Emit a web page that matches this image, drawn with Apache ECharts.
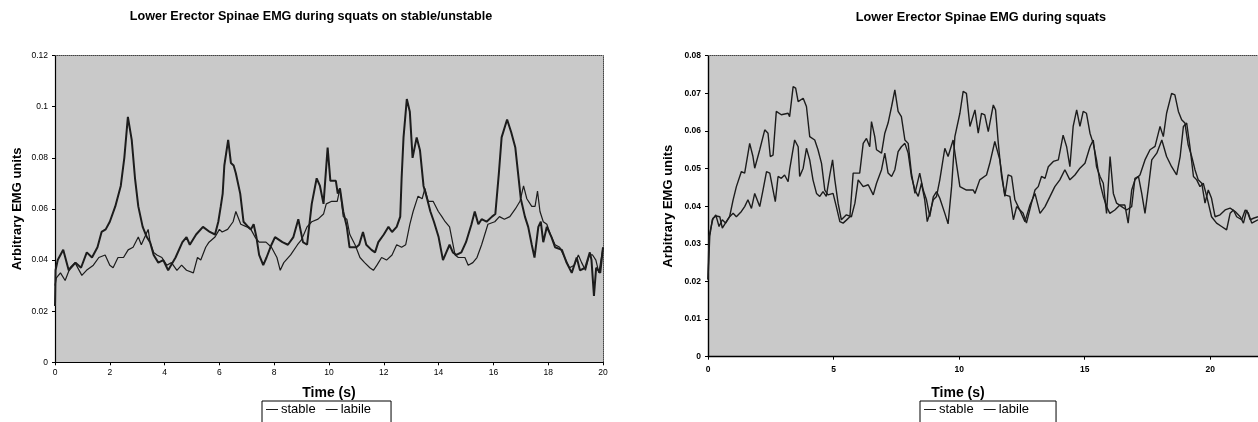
<!DOCTYPE html>
<html><head><meta charset="utf-8">
<script src="https://cdn.jsdelivr.net/npm/echarts@6/dist/echarts.min.js"></script>
<style>html,body{margin:0;padding:0;background:#fff}#c{width:1258px;height:422px}</style>
</head><body><div id="c"></div>
<script>
// ---- Left chart: stable / unstable ----
const leftLabileT = [0,0.02,0.1,0.3,0.5,0.75,0.95,1.16,1.35,1.55,1.7,1.85,2,2.2,2.4,2.53,2.66,2.8,2.92,3.04,3.2,3.35,3.47,3.6,3.77,3.95,4.13,4.4,4.65,4.8,4.92,5.15,5.4,5.65,5.84,5.96,6.05,6.12,6.18,6.32,6.42,6.52,6.6,6.76,6.88,7.05,7.15,7.25,7.35,7.45,7.6,7.72,7.9,8.03,8.3,8.5,8.7,8.88,9.05,9.2,9.37,9.55,9.67,9.8,9.95,10.05,10.25,10.32,10.4,10.52,10.65,10.75,11,11.1,11.24,11.36,11.55,11.68,11.8,12,12.17,12.3,12.47,12.6,12.65,12.72,12.84,12.95,13.05,13.2,13.32,13.45,13.58,13.7,13.83,14,14.16,14.28,14.4,14.52,14.65,14.83,15,15.2,15.32,15.45,15.57,15.75,15.95,16.07,16.2,16.3,16.5,16.65,16.8,16.9,17,17.15,17.27,17.4,17.5,17.64,17.73,17.82,17.95,18.12,18.25,18.5,18.67,18.86,19.04,19.16,19.35,19.52,19.58,19.67,19.75,19.9,20];
const leftLabileV = [0.022,0.036,0.040,0.044,0.036,0.039,0.037,0.043,0.041,0.045,0.051,0.052,0.055,0.061,0.069,0.080,0.096,0.087,0.072,0.061,0.053,0.049,0.047,0.042,0.039,0.040,0.036,0.041,0.047,0.049,0.046,0.050,0.053,0.051,0.050,0.055,0.061,0.066,0.077,0.087,0.078,0.077,0.074,0.066,0.055,0.053,0.052,0.054,0.049,0.042,0.038,0.041,0.046,0.049,0.047,0.046,0.049,0.056,0.047,0.046,0.062,0.072,0.069,0.062,0.084,0.071,0.071,0.066,0.068,0.059,0.053,0.045,0.045,0.046,0.051,0.046,0.044,0.043,0.047,0.050,0.053,0.051,0.053,0.057,0.072,0.088,0.103,0.098,0.080,0.088,0.083,0.069,0.064,0.059,0.055,0.049,0.040,0.043,0.046,0.043,0.042,0.043,0.047,0.054,0.059,0.054,0.056,0.055,0.057,0.058,0.074,0.088,0.095,0.090,0.084,0.074,0.064,0.057,0.053,0.046,0.041,0.053,0.055,0.047,0.053,0.049,0.045,0.044,0.039,0.035,0.041,0.036,0.037,0.043,0.040,0.026,0.037,0.035,0.045];
const leftStableT = [0,0.05,0.2,0.37,0.55,0.73,0.98,1.15,1.4,1.6,1.83,2,2.12,2.3,2.5,2.67,2.85,3.04,3.15,3.4,3.47,3.6,3.72,3.9,4.08,4.25,4.45,4.62,4.8,5.05,5.2,5.32,5.5,5.62,5.84,6,6.1,6.3,6.5,6.6,6.78,7,7.15,7.3,7.45,7.7,7.9,8.1,8.22,8.35,8.6,8.85,9,9.2,9.37,9.6,9.8,9.9,10.1,10.3,10.4,10.52,10.65,10.76,10.95,11.13,11.3,11.49,11.62,11.75,11.92,12.1,12.3,12.47,12.65,12.8,12.95,13.07,13.25,13.4,13.5,13.62,13.8,13.99,14.12,14.24,14.4,14.6,14.72,14.96,15.08,15.25,15.4,15.57,15.8,16.05,16.22,16.4,16.6,16.8,16.97,17.1,17.22,17.4,17.52,17.61,17.7,17.82,17.95,18.08,18.25,18.42,18.6,18.78,18.95,19.1,19.22,19.36,19.5,19.62,19.74,19.85,20];
const leftStableV = [0.030,0.033,0.035,0.032,0.037,0.039,0.034,0.036,0.038,0.041,0.042,0.038,0.037,0.041,0.041,0.044,0.045,0.049,0.046,0.052,0.047,0.043,0.042,0.041,0.038,0.039,0.036,0.038,0.036,0.035,0.041,0.040,0.045,0.047,0.049,0.052,0.051,0.052,0.055,0.059,0.054,0.053,0.052,0.049,0.047,0.047,0.045,0.041,0.036,0.039,0.042,0.046,0.048,0.053,0.055,0.056,0.058,0.062,0.063,0.063,0.068,0.057,0.056,0.050,0.046,0.041,0.039,0.037,0.036,0.038,0.041,0.040,0.042,0.046,0.045,0.046,0.054,0.059,0.065,0.064,0.068,0.063,0.063,0.059,0.057,0.055,0.053,0.042,0.041,0.041,0.038,0.039,0.041,0.046,0.054,0.055,0.057,0.056,0.057,0.060,0.063,0.069,0.064,0.061,0.061,0.067,0.059,0.055,0.054,0.050,0.046,0.045,0.041,0.037,0.038,0.042,0.039,0.036,0.042,0.042,0.040,0.035,0.045];

// ---- Right chart ----
const rightLabileT = [0,0.04,0.2,0.33,0.47,0.57,0.73,0.86,1,1.13,1.33,1.46,1.66,1.79,1.86,2.06,2.26,2.39,2.48,2.59,2.72,2.92,3.19,3.25,3.39,3.49,3.59,3.79,3.92,4.05,4.25,4.38,4.52,4.65,4.78,4.98,5.11,5.25,5.38,5.51,5.65,5.78,6.04,6.18,6.31,6.44,6.51,6.64,6.71,6.91,7.04,7.17,7.31,7.44,7.57,7.7,7.84,7.97,8.1,8.24,8.43,8.57,8.7,8.83,8.97,9.1,9.23,9.43,9.56,9.7,9.83,10.03,10.16,10.29,10.43,10.63,10.76,10.89,11.02,11.16,11.36,11.45,11.56,11.69,11.82,12.02,12.16,12.29,12.42,12.55,12.68,12.88,13.02,13.15,13.28,13.42,13.55,13.75,13.95,14.14,14.28,14.41,14.54,14.68,14.81,14.94,15.07,15.21,15.34,15.47,15.61,15.74,15.87,16,16.2,16.4,16.6,16.73,16.87,17,17.2,17.4,17.6,17.8,18,18.13,18.26,18.46,18.59,18.73,18.86,18.99,19.12,19.26,19.39,19.52,19.66,19.79,19.92,20.05,20.19,20.39,20.59,20.79,20.99,21.19,21.32,21.45,21.59,21.72,21.9];
const rightLabileV = [0.0205,0.032,0.0368,0.0374,0.0372,0.0342,0.0359,0.0372,0.0417,0.0452,0.0492,0.0488,0.0567,0.0532,0.0501,0.055,0.0603,0.0594,0.0532,0.0536,0.0652,0.0643,0.0647,0.0638,0.0718,0.0714,0.0678,0.0687,0.0665,0.0585,0.0576,0.055,0.0514,0.0443,0.043,0.0434,0.0399,0.0359,0.0355,0.0363,0.0372,0.0488,0.0488,0.0567,0.058,0.0558,0.0625,0.0585,0.055,0.0541,0.0594,0.0621,0.0665,0.0709,0.0652,0.0638,0.0576,0.0567,0.0488,0.0434,0.0488,0.0443,0.0417,0.0372,0.0425,0.0439,0.0421,0.0381,0.0353,0.0452,0.0585,0.0647,0.0705,0.07,0.0612,0.0656,0.0594,0.0647,0.0643,0.0598,0.0669,0.0656,0.0567,0.0479,0.043,0.0426,0.0364,0.0399,0.039,0.0381,0.0355,0.0408,0.0443,0.0452,0.0479,0.0474,0.0505,0.0519,0.0523,0.0589,0.0558,0.0505,0.0612,0.0656,0.0612,0.0652,0.0647,0.0594,0.0567,0.0523,0.0461,0.0426,0.0399,0.0381,0.039,0.0403,0.0403,0.0355,0.0443,0.047,0.0483,0.0523,0.055,0.0559,0.0612,0.0585,0.0647,0.07,0.0696,0.0652,0.063,0.0621,0.0563,0.0532,0.0497,0.047,0.0461,0.0408,0.0443,0.0421,0.0372,0.0377,0.039,0.0395,0.0386,0.0372,0.0355,0.039,0.0364,0.0368,0.0372];
const rightStableT = [0,0.07,0.17,0.31,0.44,0.57,0.7,0.86,1,1.13,1.33,1.46,1.59,1.73,1.86,2.06,2.19,2.33,2.46,2.59,2.68,2.79,2.92,3.05,3.19,3.25,3.45,3.59,3.65,3.79,3.92,4.05,4.18,4.32,4.45,4.58,4.71,4.85,4.96,5.05,5.18,5.31,5.51,5.71,5.85,5.98,6.18,6.38,6.58,6.71,6.91,7.04,7.17,7.31,7.44,7.57,7.7,7.84,7.97,8.1,8.24,8.37,8.5,8.63,8.73,8.83,8.97,9.1,9.23,9.43,9.56,9.76,9.9,10.03,10.29,10.56,10.63,10.82,11.09,11.22,11.42,11.62,11.82,11.95,12.09,12.22,12.35,12.62,12.82,13.02,13.22,13.42,13.62,13.81,14.01,14.21,14.41,14.61,14.81,15.01,15.21,15.34,15.47,15.61,15.74,15.87,16.01,16.14,16.27,16.47,16.67,16.87,17,17.14,17.27,17.4,17.54,17.67,17.87,18.07,18.26,18.46,18.66,18.8,18.93,19.06,19.19,19.33,19.46,19.59,19.72,19.86,20.05,20.25,20.45,20.65,20.79,20.92,21.05,21.25,21.39,21.52,21.65,21.9];
const rightStableV = [0.0205,0.032,0.0364,0.0377,0.0346,0.0364,0.0355,0.0372,0.0381,0.0372,0.0386,0.0399,0.0417,0.0394,0.0434,0.0399,0.0443,0.0492,0.0488,0.0443,0.0412,0.0479,0.0474,0.0483,0.0465,0.0497,0.0576,0.0558,0.0479,0.0501,0.0554,0.0523,0.047,0.0434,0.0426,0.0439,0.0426,0.0483,0.0523,0.047,0.0408,0.0364,0.0377,0.0372,0.0408,0.047,0.0452,0.0457,0.043,0.0461,0.0497,0.0541,0.0488,0.0479,0.0497,0.0545,0.0558,0.0567,0.0541,0.0479,0.0443,0.0426,0.0461,0.0417,0.0359,0.0381,0.0417,0.0426,0.047,0.0554,0.0532,0.0576,0.051,0.0452,0.0443,0.0443,0.0434,0.047,0.0483,0.0514,0.0572,0.0523,0.0426,0.0483,0.0479,0.0417,0.0399,0.0359,0.0403,0.0434,0.0381,0.0399,0.0426,0.0452,0.047,0.0497,0.047,0.0483,0.0501,0.0514,0.0558,0.0576,0.0505,0.0479,0.0461,0.0381,0.0532,0.0434,0.0408,0.0399,0.039,0.0399,0.0474,0.0479,0.0434,0.0381,0.0452,0.0523,0.0541,0.0576,0.0532,0.0505,0.0483,0.0532,0.0612,0.0621,0.0558,0.0479,0.047,0.0452,0.0461,0.0426,0.0372,0.0355,0.0346,0.0337,0.0381,0.039,0.0372,0.0364,0.039,0.0381,0.0355,0.0364];

const leftXTicks = {min: 0, max: 20, interval: 2};
const leftYTicks = {min: 0, max: 0.12, interval: 0.02};
// right chart is cut off at the page edge; visible axis runs to about 21.9 s
const rightXTicks = {min: 0, max: 21.9, interval: 5};
const rightYTicks = {min: 0, max: 0.08, interval: 0.01};

const zip = (t, v) => t.map((x, i) => [x, v[i]]);
const FONT = '"Liberation Sans", Arial, sans-serif';
const INK = '#1c1c1c';

function frameAxis(extra) {
  return Object.assign({
    type: 'value', axisLabel: {show: false}, axisTick: {show: false}, splitLine: {show: false},
    axisLine: {show: true, onZero: false, lineStyle: {color: '#444', width: 1, type: 'dotted'}}
  }, extra);
}

const chart = echarts.init(document.getElementById('c'), null, {renderer: 'canvas'});
chart.setOption({
  animation: false,
  textStyle: {fontFamily: FONT, color: '#000'},
  graphic: [
    {type: 'text', x: 311, y: 17, style: {text: 'Lower Erector Spinae EMG during squats on stable/unstable', font: 'bold 12.6px ' + FONT, fill: '#000', textAlign: 'center', textVerticalAlign: 'middle'}},
    {type: 'text', x: 981, y: 17, style: {text: 'Lower Erector Spinae EMG during squats', font: 'bold 12.7px ' + FONT, fill: '#000', textAlign: 'center', textVerticalAlign: 'middle'}},
    {type: 'text', x: 958, y: 393, style: {text: 'Time (s)', font: 'bold 14px ' + FONT, fill: '#000', textAlign: 'center', textVerticalAlign: 'middle'}}
  ],
  grid: [
    {left: 55, top: 55.6, width: 548, height: 306.7, show: true, backgroundColor: '#c9c9c9', borderWidth: 0},
    {left: 708, top: 55.7, width: 550, height: 301, show: true, backgroundColor: '#c9c9c9', borderWidth: 0}
  ],
  legend: [
    {data: ['stable', 'labile'], left: 262, top: 401, orient: 'horizontal', itemWidth: 12, itemHeight: 8, itemGap: 10,
     borderColor: '#000', borderWidth: 1, padding: [2, 20, 12, 4], textStyle: {fontSize: 13, fontFamily: FONT, color: '#000', padding: [0, 0, 0, -2]}, icon: 'path://M0,5 L12,5 L12,6 L0,6 Z', inactiveColor: '#000'},
    {data: ['stable', 'labile'], left: 920, top: 401, orient: 'horizontal', itemWidth: 12, itemHeight: 8, itemGap: 10,
     borderColor: '#000', borderWidth: 1, padding: [2, 27, 12, 4], textStyle: {fontSize: 13, fontFamily: FONT, color: '#000', padding: [0, 0, 0, -2]}, icon: 'path://M0,5 L12,5 L12,6 L0,6 Z', inactiveColor: '#000'}
  ],
  xAxis: [
    Object.assign({type: 'value', gridIndex: 0, splitLine: {show: false},
      axisLine: {onZero: false, lineStyle: {color: '#000', width: 1.2}},
      axisTick: {show: true, length: 3, lineStyle: {color: '#000'}},
      axisLabel: {fontSize: 8.5, color: '#000', margin: 6, fontFamily: FONT},
      name: 'Time (s)', nameLocation: 'middle', nameGap: 24,
      nameTextStyle: {fontSize: 14, fontWeight: 'bold', color: '#000', fontFamily: FONT}}, leftXTicks),
    Object.assign({type: 'value', gridIndex: 1, splitLine: {show: false},
      axisLine: {onZero: false, lineStyle: {color: '#000', width: 1.4}},
      axisTick: {show: true, length: 3, lineStyle: {color: '#000'}},
      axisLabel: {fontSize: 8.5, fontWeight: 'bold', color: '#000', margin: 8, fontFamily: FONT, showMaxLabel: false}}, rightXTicks),
    frameAxis(Object.assign({gridIndex: 0, position: 'top'}, leftXTicks)),
    frameAxis(Object.assign({gridIndex: 1, position: 'top'}, rightXTicks))
  ],
  yAxis: [
    Object.assign({type: 'value', gridIndex: 0, splitLine: {show: false},
      axisLine: {show: true, onZero: false, lineStyle: {color: '#000', width: 1.2}},
      axisTick: {show: true, length: 3, lineStyle: {color: '#000'}},
      axisLabel: {fontSize: 8.5, color: '#000', margin: 7, fontFamily: FONT},
      name: 'Arbitrary EMG units', nameLocation: 'middle', nameGap: 31,
      nameTextStyle: {fontSize: 13, fontWeight: 'bold', color: '#000', fontFamily: FONT}}, leftYTicks),
    Object.assign({type: 'value', gridIndex: 1, splitLine: {show: false},
      axisLine: {show: true, onZero: false, lineStyle: {color: '#000', width: 1.4}},
      axisTick: {show: true, length: 3, lineStyle: {color: '#000'}},
      axisLabel: {fontSize: 8.5, fontWeight: 'bold', color: '#000', margin: 7, fontFamily: FONT},
      name: 'Arbitrary EMG units', nameLocation: 'middle', nameGap: 33,
      nameTextStyle: {fontSize: 13, fontWeight: 'bold', color: '#000', fontFamily: FONT}}, rightYTicks),
    frameAxis(Object.assign({gridIndex: 0, position: 'right'}, leftYTicks))
  ],
  series: [
    {name: 'stable', type: 'line', xAxisIndex: 0, yAxisIndex: 0, data: zip(leftStableT, leftStableV), showSymbol: false, lineStyle: {color: INK, width: 1.2}, itemStyle: {color: INK}},
    {name: 'labile', type: 'line', xAxisIndex: 0, yAxisIndex: 0, data: zip(leftLabileT, leftLabileV), showSymbol: false, lineStyle: {color: INK, width: 2}, itemStyle: {color: INK}},
    {name: 'stable', type: 'line', xAxisIndex: 1, yAxisIndex: 1, data: zip(rightStableT, rightStableV), showSymbol: false, lineStyle: {color: INK, width: 1.4}, itemStyle: {color: INK}},
    {name: 'labile', type: 'line', xAxisIndex: 1, yAxisIndex: 1, data: zip(rightLabileT, rightLabileV), showSymbol: false, lineStyle: {color: INK, width: 1.4}, itemStyle: {color: INK}}
  ]
});
</script></body></html>
